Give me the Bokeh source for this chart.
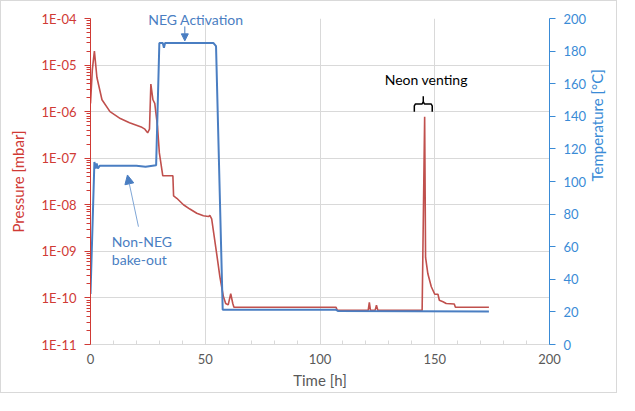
import math
from bokeh.plotting import figure
from bokeh.models import (Range1d, LinearAxis, LinearScale, FixedTicker, CustomJSTickFormatter,
                          Arrow, NormalHead, Label)
from bokeh.embed import file_html
from bokeh.resources import INLINE

# ---------------- data ----------------
pressure_time = [0, 0.8, 1.7, 2.8, 5, 8.5, 13, 17, 22.4, 23.7, 24.9, 25.7, 26.3, 27.2, 28,
                 29.2, 30, 31.5, 35.9, 36.2, 37.6, 40.5, 43.3, 46.3, 49.2, 51.4, 52, 52.8,
                 55, 56.4, 57.9, 58.9, 60, 61.1, 62, 62.5, 107, 107.5, 121, 121.5, 122,
                 124, 124.6, 125.2, 144.5, 145.6, 146, 147, 148.5, 150, 151.4, 152, 153.6,
                 155, 158.5, 159, 173.6]
pressure = [1.5e-6, 8e-6, 2.0e-5, 5.4e-6, 1.8e-6, 1.0e-6, 7.1e-7, 5.8e-7, 4.6e-7, 4.2e-7,
            3.5e-7, 4.2e-7, 3.9e-6, 1.8e-6, 1.5e-6, 4.8e-7, 1.3e-7, 4.2e-8, 4.2e-8, 1.55e-8,
            1.38e-8, 1.0e-8, 8.1e-9, 6.6e-9, 5.8e-9, 5.6e-9, 5.9e-9, 5.0e-9, 8.7e-10,
            2.8e-10, 1.07e-10, 7.6e-11, 7.1e-11, 1.23e-10, 7.6e-11, 6.3e-11, 6.3e-11,
            5.4e-11, 5.4e-11, 8e-11, 5.4e-11, 5.4e-11, 7e-11, 5.4e-11, 5.4e-11, 7.8e-7,
            7.4e-10, 3.3e-10, 1.74e-10, 1.2e-10, 1.2e-10, 8.9e-11, 8.3e-11, 7.6e-11,
            7.4e-11, 6.3e-11, 6.3e-11]

temp_time = [0, 1.7, 2.2, 2.7, 3.2, 4, 20, 24, 28.6, 30, 31.5, 32, 32.5, 53.5, 54.7, 57.6,
             107, 108, 173.6]
temperature = [31, 112, 108, 111, 108, 109.6, 109.6, 109, 110, 185, 185, 182, 185, 185, 183,
               21.3, 21.3, 20.5, 20.3]

pressure_exponents = [-11, -10, -9, -8, -7, -6, -5, -4]
pressure_tick_labels = ["1E-11", "1E-10", "1E-09", "1E-08", "1E-07", "1E-06", "1E-05", "1E-04"]
time_ticks = [0, 50, 100, 150, 200]
temp_ticks = [0, 20, 40, 60, 80, 100, 120, 140, 160, 180, 200]

RED = "#C0504D"
RED_AX = "#D03A35"
BLUE = "#4A7EC2"
BLUE_AX = "#3A8BD6"
GRID = "#D9D9D9"
FONT = "Lato"

p = figure(width=617, height=393, output_backend="svg", toolbar_location=None,
           y_axis_type="log", x_range=Range1d(0, 200), y_range=Range1d(1e-11, 1e-4),
           min_border_left=89, min_border_right=67, min_border_top=12, min_border_bottom=50)
p.styles = {"border": "1px solid #D9D9D9"}
p.outline_line_color = None
p.background_fill_color = "white"
p.border_fill_color = "white"

# grids
p.xgrid.ticker = FixedTicker(ticks=time_ticks)
p.xgrid.grid_line_color = GRID
p.ygrid.ticker = FixedTicker(ticks=[10.0 ** e for e in pressure_exponents])
p.ygrid.grid_line_color = GRID

# x axis
xa = p.xaxis[0]
xa.ticker = FixedTicker(ticks=time_ticks, minor_ticks=list(range(0, 201, 10)))
xa.axis_label = "Time [h]"
xa.axis_line_color = GRID
xa.major_tick_line_color = GRID
xa.minor_tick_line_color = GRID
xa.major_tick_in = 4
xa.major_tick_out = 0
xa.minor_tick_in = 4
xa.minor_tick_out = 0
xa.major_label_text_color = "#595959"
xa.axis_label_text_color = "#595959"
xa.major_label_text_font = FONT
xa.axis_label_text_font = FONT
xa.major_label_text_font_size = "13px"
xa.axis_label_text_font_size = "15px"
xa.axis_label_text_font_style = "normal"
xa.major_label_standoff = 9
xa.axis_label_standoff = 4

# left (pressure) axis
ya = p.yaxis[0]
minor = [m * 10.0 ** e for e in pressure_exponents[:-1] for m in range(2, 10)]
ya.ticker = FixedTicker(ticks=[10.0 ** e for e in pressure_exponents], minor_ticks=minor)
ya.formatter = CustomJSTickFormatter(args=dict(labels=pressure_tick_labels, emin=pressure_exponents[0]),
                                     code="const e = Math.round(Math.log10(tick)); return labels[e - emin];")
ya.axis_label = "Pressure [mbar]"
for attr in ("axis_line_color", "major_tick_line_color", "minor_tick_line_color"):
    setattr(ya, attr, RED_AX)
ya.major_label_text_color = RED_AX
ya.axis_label_text_color = RED_AX
ya.major_tick_out = 6
ya.major_tick_in = 0
ya.minor_tick_out = 4
ya.minor_tick_in = 0
ya.major_label_text_font = FONT
ya.axis_label_text_font = FONT
ya.major_label_text_font_size = "13px"
ya.axis_label_text_font_size = "15px"
ya.axis_label_text_font_style = "normal"
ya.major_label_standoff = 8
ya.axis_label_standoff = 12

# right (temperature) axis
p.extra_y_ranges = {"temp": Range1d(0, 200)}
p.extra_y_scales = {"temp": LinearScale()}
ra = LinearAxis(y_range_name="temp", ticker=FixedTicker(ticks=temp_ticks),
                axis_label="Temperature [°C]")
for attr in ("axis_line_color", "major_tick_line_color"):
    setattr(ra, attr, BLUE_AX)
ra.minor_tick_line_color = None
ra.major_tick_out = 6
ra.major_tick_in = 0
ra.major_label_text_color = BLUE_AX
ra.axis_label_text_color = BLUE_AX
ra.major_label_text_font = FONT
ra.axis_label_text_font = FONT
ra.major_label_text_font_size = "13px"
ra.axis_label_text_font_size = "15px"
ra.axis_label_text_font_style = "normal"
ra.major_label_standoff = 8
ra.axis_label_standoff = 8
ra.axis_label_orientation = math.pi / 2
p.add_layout(ra, "right")

# series
p.line(pressure_time, pressure, line_color=RED, line_width=1.6)
p.line(temp_time, temperature, line_color=BLUE, line_width=2, y_range_name="temp")

# annotations
p.add_layout(Label(x=45.9, y=10 ** -4.02, text="NEG Activation", text_color=BLUE,
                   text_font=FONT, text_font_size="14px", text_align="center",
                   text_baseline="middle"), "above")
p.add_layout(Arrow(x_start=41.1, y_start=10 ** -4.17, x_end=41.1, y_end=10 ** -4.48,
                   line_color=BLUE, line_width=1,
                   end=NormalHead(size=7, fill_color=BLUE, line_color=BLUE)))

p.add_layout(Label(x=9.3, y=10 ** -8.79, text="Non-NEG", text_color=BLUE, text_font=FONT,
                   text_font_size="14px", text_align="left", text_baseline="middle"))
p.add_layout(Label(x=9.3, y=10 ** -9.17, text="bake-out", text_color=BLUE, text_font=FONT,
                   text_font_size="14px", text_align="left", text_baseline="middle"))
p.add_layout(Arrow(x_start=20.9, y_start=10 ** -8.47, x_end=16.1, y_end=10 ** -7.36,
                   line_color="#7FA6D6", line_width=1,
                   end=NormalHead(size=9, fill_color=BLUE, line_color=BLUE)))

p.add_layout(Label(x=146.3, y=10 ** -5.30, text="Neon venting", text_color="black",
                   text_font=FONT, text_font_size="14px", text_align="center",
                   text_baseline="middle"))

# curly brace over the neon spike (annotation shape)
bc, bw = 145.0, 3.9          # centre and half width in hours
ytop, ybar, ybot = -5.667, -5.835, -6.004
bx = [bc - bw, bc - bw, bc - bw + 0.5, bc - 0.5, bc, bc, bc, bc + 0.5, bc + bw - 0.5, bc + bw, bc + bw]
byl = [ybot, ybar - 0.04, ybar, ybar, ybar + 0.05, ytop, ybar + 0.05, ybar, ybar, ybar - 0.04, ybot]
p.line(bx, [10 ** v for v in byl], line_color="black", line_width=1.5)

open("out.html", "w").write(file_html(p, INLINE))
